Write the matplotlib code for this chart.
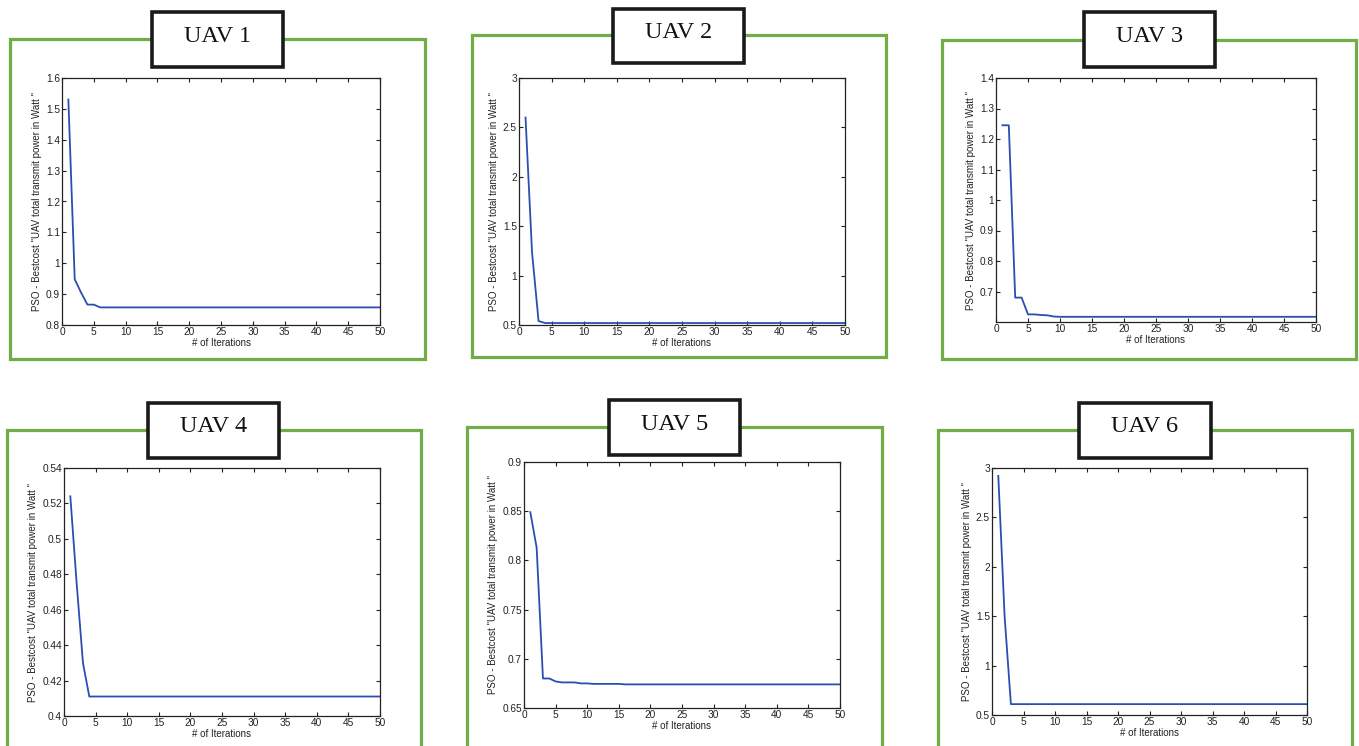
import matplotlib
matplotlib.use('Agg')
import matplotlib.pyplot as plt
from matplotlib.patches import Rectangle
from matplotlib.ticker import FuncFormatter

# best cost per iteration
iters = list(range(1, 51))
uav1 = [1.53, 0.948, 0.905, 0.866, 0.866] + [0.857] * 45
uav2 = [2.6, 1.235, 0.54, 0.52] + [0.52] * 46
uav3 = [1.245, 1.245, 0.68, 0.68, 0.625, 0.625, 0.623, 0.622, 0.618] + [0.617] * 41
uav4 = [0.524, 0.475, 0.43, 0.411] + [0.411] * 46
uav5 = [0.849, 0.813, 0.680, 0.680, 0.677, 0.676, 0.676, 0.676, 0.675, 0.675] + [0.6745] * 5 + [0.674] * 35
uav6 = [2.92, 1.5, 0.61] + [0.61] * 47
series = [uav1, uav2, uav3, uav4, uav5, uav6]
titles = ['UAV 1', 'UAV 2', 'UAV 3', 'UAV 4', 'UAV 5', 'UAV 6']

yticks = [
    [0.8, 0.9, 1.0, 1.1, 1.2, 1.3, 1.4, 1.5, 1.6],
    [0.5, 1.0, 1.5, 2.0, 2.5, 3.0],
    [0.7, 0.8, 0.9, 1.0, 1.1, 1.2, 1.3, 1.4],
    [0.40, 0.42, 0.44, 0.46, 0.48, 0.50, 0.52, 0.54],
    [0.65, 0.70, 0.75, 0.80, 0.85, 0.90],
    [0.5, 1.0, 1.5, 2.0, 2.5, 3.0],
]
ylims = [(0.8, 1.6), (0.5, 3.0), (0.6, 1.4), (0.4, 0.54), (0.65, 0.9), (0.5, 3.0)]
xticks = list(range(0, 51, 5))

W, H = 1359, 746
fig = plt.figure(figsize=(W / 100, H / 100), dpi=100)
plt.rcParams['font.family'] = ['Liberation Sans', 'DejaVu Sans']

# layout in pixels: axes box, green frame, title box
axes_px = [(62, 78, 380, 325), (519, 78, 845, 325), (996, 78, 1316, 322),
           (64, 468, 380, 716), (524, 462, 840, 708), (992, 468, 1307, 715)]
frame_px = [(10, 39, 425, 359), (472, 35, 886, 357), (942, 40, 1356, 359),
            (7, 430, 421, 760), (467, 427, 882, 760), (938, 430, 1352, 760)]
box_px = [(152, 12, 283, 67), (613, 9, 744, 63), (1084, 12, 1215, 67),
          (148, 403, 279, 458), (609, 400, 740, 455), (1079, 403, 1211, 458)]

def fig_rect(x0, y0, x1, y1):
    return (x0 / W, 1 - y1 / H, (x1 - x0) / W, (y1 - y0) / H)

green = '#70ad47'
for i in range(6):
    l, b, w, h = fig_rect(*frame_px[i])
    fig.patches.append(Rectangle((l, b), w, h, transform=fig.transFigure,
                                 fill=False, edgecolor=green, lw=2.3, zorder=0))
    l, b, w, h = fig_rect(*box_px[i])
    fig.patches.append(Rectangle((l, b), w, h, transform=fig.transFigure,
                                 facecolor='white', edgecolor='#1a1a1a', lw=2.6, zorder=1))
    fig.text(l + w / 2, b + h - 24 / H, titles[i], ha='center', va='center',
             fontsize=17.5, family=['Liberation Serif', 'DejaVu Serif'], color='#111111')

    ax = fig.add_axes(fig_rect(*axes_px[i]))
    ax.plot(iters, series[i], color='#2a4fb0', lw=1.3)
    ax.set_xlim(0, 50)
    ax.set_ylim(*ylims[i])
    ax.set_xticks(xticks)
    ax.set_yticks(yticks[i])
    ax.yaxis.set_major_formatter(FuncFormatter(lambda v, p: '%g' % round(v, 3)))
    ax.tick_params(direction='in', top=True, right=True, length=3, width=0.8,
                   labelsize=7.3, pad=1.5, colors='#222222')
    for s in ax.spines.values():
        s.set_linewidth(0.9)
        s.set_color('#222222')
    ax.set_xlabel('# of Iterations', fontsize=7, labelpad=1, color='#222222')
    ax.set_ylabel('PSO - Bestcost "UAV total transmit power in Watt "', fontsize=7,
                  labelpad=3, color='#222222')

fig.savefig('out.png', dpi=100)
